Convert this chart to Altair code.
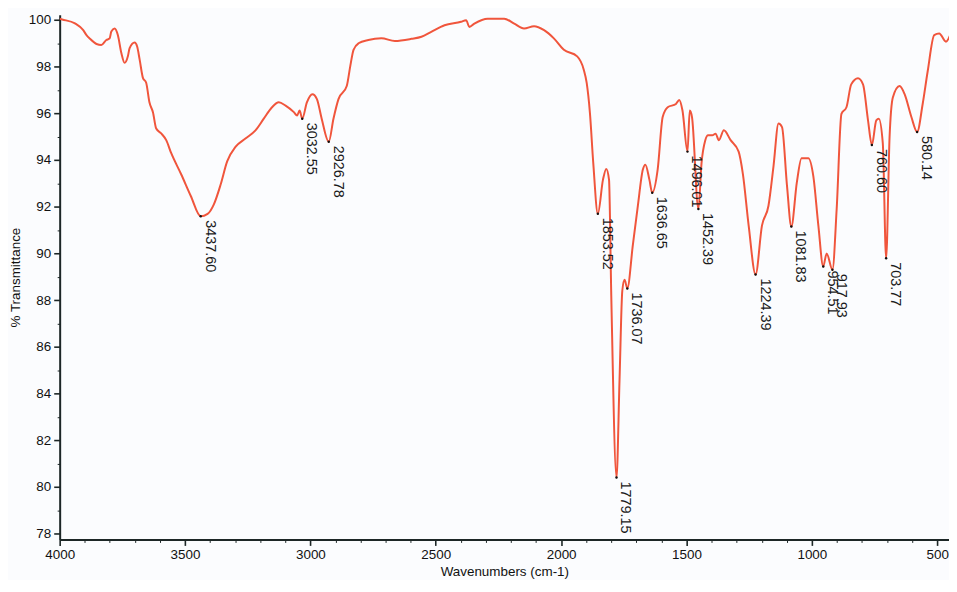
import altair as alt
import pandas as pd

# Spectrum trace (wavenumber cm-1, % transmittance)
wavenumber = [4000, 3990, 3939, 3906, 3893, 3880, 3853, 3834, 3814, 3801, 3794, 3781, 3768, 3754,
              3741, 3728, 3721, 3701, 3691, 3681, 3668, 3655, 3642, 3628, 3615, 3595, 3575, 3555,
              3515, 3477, 3437.60, 3410, 3385, 3358, 3332, 3298, 3259, 3219, 3186, 3153, 3126,
              3099, 3066, 3053, 3043, 3032.55, 3014, 2992, 2974, 2955, 2926.78, 2908, 2888, 2855,
              2841, 2828, 2808, 2769, 2717, 2663, 2597, 2557, 2518, 2465, 2399, 2379, 2366, 2346,
              2293, 2227, 2187, 2148, 2108, 2068, 2029, 1989, 1936, 1910, 1898, 1885, 1872,
              1853.52, 1833, 1820, 1809, 1800, 1779.15, 1767, 1756, 1747, 1736.07, 1714, 1694,
              1674, 1664, 1648, 1636.65, 1615, 1595, 1575, 1542, 1529, 1516, 1496.01, 1487, 1478,
              1452.39, 1440, 1425, 1414, 1397, 1384, 1371, 1351, 1324, 1292, 1275, 1252, 1224.39,
              1199, 1173, 1153, 1133, 1119, 1099, 1081.83, 1060, 1041, 1014, 994, 974, 954.51,
              941, 917.93, 901, 882, 862, 843, 816, 796, 776, 760.60, 743, 733, 717, 703.77, 690,
              677, 650, 630, 603, 580.14, 558, 538, 512, 492, 465, 446]
transmittance = [100.05, 100.02, 99.85, 99.56, 99.35, 99.2, 98.97, 98.93, 99.14, 99.2, 99.5, 99.63,
                 99.35, 98.58, 98.16, 98.44, 98.79, 99.03, 98.86, 98.3, 97.52, 97.31, 96.47, 96.05,
                 95.35, 95.14, 94.85, 94.29, 93.38, 92.46, 91.59, 91.69, 92.1, 92.95, 93.94, 94.57,
                 94.92, 95.27, 95.77, 96.26, 96.47, 96.33, 96.05, 95.91, 96.12, 95.77, 96.47, 96.82,
                 96.61, 95.77, 94.78, 95.77, 96.61, 97.17, 98.02, 98.72, 99.0, 99.14, 99.21, 99.1,
                 99.19, 99.28, 99.49, 99.77, 99.92, 99.99, 99.7, 99.84, 100.05, 100.05, 99.84, 99.63,
                 99.73, 99.56, 99.21, 98.72, 98.44, 97.88, 97.3, 96.0, 93.9, 91.7, 93.16, 93.62,
                 93.16, 88.2, 80.4, 84.6, 88.4, 88.87, 88.5, 90.35, 92.04, 93.59, 93.8, 93.16, 92.6,
                 93.59, 95.84, 96.26, 96.4, 96.57, 96.12, 94.36, 96.12, 95.84, 91.9, 93.87, 94.85,
                 95.06, 95.06, 95.13, 94.85, 95.27, 94.85, 94.36, 93.4, 91.19, 89.1, 91.19, 92.04,
                 93.73, 95.56, 95.41, 92.88, 91.15, 93.03, 94.08, 94.08, 93.3, 91.19, 89.44, 90.0,
                 89.3, 91.9, 95.98, 96.26, 97.24, 97.5, 97.24, 95.7, 94.64, 95.7, 95.77, 94.71,
                 89.79, 94.99, 96.68, 97.17, 96.82, 95.84, 95.2, 96.4, 97.8, 99.35, 99.42, 99.07,
                 99.42]

# Labelled peaks
peak_wn = [3437.60, 3032.55, 2926.78, 1853.52, 1779.15, 1736.07, 1636.65, 1496.01, 1452.39,
           1224.39, 1081.83, 954.51, 917.93, 760.60, 703.77, 580.14]
peak_t = [91.59, 95.77, 94.78, 91.7, 80.4, 88.5, 92.6, 94.36, 91.9,
          89.1, 91.15, 89.44, 89.3, 94.64, 89.79, 95.2]
peak_label = ["3437.60", "3032.55", "2926.78", "1853.52", "1779.15", "1736.07", "1636.65",
              "1496.01", "1452.39", "1224.39", "1081.83", "954.51", "917.93", "760.60",
              "703.77", "580.14"]

# Tick positions: major ticks carry labels, the others are minor ticks
x_ticks = list(range(4000, 453, -100))
y_ticks = [78 + 0.5 * i for i in range(45)]

spec = pd.DataFrame({"wn": wavenumber, "t": transmittance})
peaks = pd.DataFrame({"wn": peak_wn, "t": peak_t, "label": peak_label})

FONT = "Liberation Sans"
AXC = "#1c2626"
xscale = alt.Scale(domain=[453, 4000], reverse=True, nice=False, zero=False)
yscale = alt.Scale(domain=[77.75, 100.22], nice=False, zero=False)

x_major = "datum.value % 500 === 0"
y_major = "datum.value % 2 === 0"

line = alt.Chart(spec).mark_line(color="#F0553C", strokeWidth=2, clip=True,
                                 interpolate="monotone").encode(
    x=alt.X("wn:Q", scale=xscale,
            axis=alt.Axis(title="Wavenumbers (cm-1)", values=x_ticks, tickCount=500,
                          format="d",
                          labelExpr=f"{x_major} ? datum.label : ''",
                          tickSize={"condition": {"test": x_major, "value": 6}, "value": 3},
                          tickWidth={"condition": {"test": x_major, "value": 1.6}, "value": 1},
                          orient="bottom", grid=False, domainColor=AXC, domainWidth=2,
                          tickColor=AXC, labelFont=FONT, labelOverlap=False,
                          labelFlush=False, labelBound=False,
                          labelFontSize=13.5, labelColor="#111", labelPadding=2,
                          titleFont=FONT, titleFontSize=13.5, titleFontWeight="normal",
                          titleColor="#111", titlePadding=4)),
    y=alt.Y("t:Q", scale=yscale,
            axis=alt.Axis(title="% Transmittance", values=y_ticks, tickCount=500,
                          format="d",
                          labelExpr=f"{y_major} ? datum.label : ''",
                          tickSize={"condition": {"test": y_major, "value": 6}, "value": 2.5},
                          tickWidth={"condition": {"test": y_major, "value": 1.6}, "value": 1},
                          orient="left", grid=False, domainColor=AXC, domainWidth=2,
                          tickColor=AXC, labelFont=FONT, labelOverlap=False,
                          labelFlush=False, labelBound=False,
                          labelFontSize=13.5, labelColor="#111", labelPadding=3,
                          titleFont=FONT, titleFontSize=13.5, titleFontWeight="normal",
                          titleColor="#111", titlePadding=6)),
)

dots = alt.Chart(peaks).mark_point(filled=True, color="#111", size=6, opacity=1).encode(
    x=alt.X("wn:Q", scale=xscale), y=alt.Y("t:Q", scale=yscale))

labels = alt.Chart(peaks).mark_text(angle=90, align="left", baseline="alphabetic",
                                    dx=4, dy=-5, font=FONT, fontSize=14.5,
                                    color="#1a1a1a").encode(
    x=alt.X("wn:Q", scale=xscale), y=alt.Y("t:Q", scale=yscale), text="label:N")

chart = alt.layer(line, dots, labels).properties(
    width=895, height=528,
    autosize=alt.AutoSizeParams(type="none"),
    padding={"left": 52, "top": 5, "right": 0, "bottom": 39},
    background="#FBFCFE",
).configure_view(stroke=None)

chart.save("out.html", embed_options={"renderer": "svg", "actions": False})
